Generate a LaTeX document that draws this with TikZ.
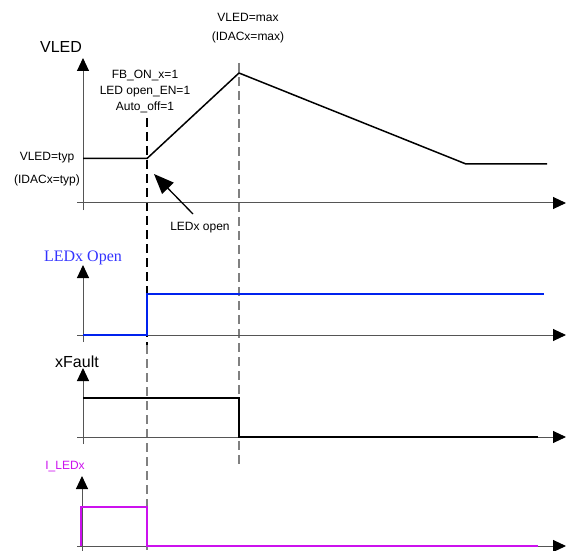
\documentclass[tikz,border=0pt]{standalone}
\usepackage{fontspec}
\setmainfont{Liberation Sans}
\newfontfamily\serifface{Liberation Serif}
\usetikzlibrary{arrows.meta}
\definecolor{axgrey}{HTML}{555555}
\definecolor{dgrey}{HTML}{808080}
\definecolor{sigblue}{HTML}{0022EE}
\definecolor{lblblue}{HTML}{3333FF}
\definecolor{sigmag}{HTML}{CC11EE}
\tikzset{
  axis/.style={draw=axgrey, line width=1pt, -{Triangle[length=13pt,width=12pt,fill=black,color=black]}},
  sig/.style={line width=1.5pt, line join=miter},
  small/.style={font=\fontsize{12}{14}\selectfont, inner sep=0pt},
  big/.style={font=\fontsize{16}{18}\selectfont, inner sep=0pt},
  blackdash/.style={draw=black, line width=1.3pt, dash pattern=on 9pt off 5pt},
  greydash/.style={draw=dgrey, line width=1.3pt, dash pattern=on 9pt off 5pt},
}
\begin{document}
\begin{tikzpicture}[x=1pt,y=-1pt]
\useasboundingbox (0,0) rectangle (566,551);
% ---------- coordinates ----------
\coordinate (vA0) at (83,210); \coordinate (vA1) at (83,58);
\coordinate (vX0) at (77,203); \coordinate (vX1) at (566,203);
\coordinate (oA0) at (83,342); \coordinate (oA1) at (83,265);
\coordinate (oX0) at (77,335); \coordinate (oX1) at (566,335);
\coordinate (fA0) at (83,444); \coordinate (fA1) at (83,368);
\coordinate (fX0) at (77,437); \coordinate (fX1) at (566,437);
\coordinate (iA0) at (82,551); \coordinate (iA1) at (82,476);
\coordinate (iX0) at (77,546); \coordinate (iX1) at (566,546);
% dashed markers
\coordinate (d1top) at (147,118); \coordinate (d1mid) at (147,345); \coordinate (d1bot) at (147,551);
\coordinate (d2top) at (239,63); \coordinate (d2bot) at (239,464);
% ---------- dashed lines ----------
\draw[blackdash] (d1top) -- (d1mid);
\draw[greydash] (d1mid) -- (d1bot);
\draw[greydash] (d2top) -- (d2bot);
% ---------- axes ----------
\draw[axis] (vA0) -- (vA1);
\draw[axis] (vX0) -- (vX1);
\draw[axis] (oA0) -- (oA1);
\draw[axis] (oX0) -- (oX1);
\draw[axis] (fA0) -- (fA1);
\draw[axis] (fX0) -- (fX1);
\draw[axis] (iA0) -- (iA1);
\draw[axis] (iX0) -- (iX1);
% ---------- VLED ----------
\coordinate (v0) at (83,158.5); \coordinate (v1) at (147,158.5);
\coordinate (v2) at (239,73); \coordinate (v3) at (466,164); \coordinate (v4) at (547,164);
\draw[sig] (v0) -- (v1) -- (v2) -- (v3) -- (v4);
\node[big] (lvled) at (61,47) {VLED};
\node[small] (ltyp) at (47,158) {VLED=typ};
\node[small] (ltypi) at (47,180) {(IDACx=typ)};
\node[small] (lmax) at (248,17) {VLED=max};
\node[small] (lmaxi) at (248,37) {(IDACx=max)};
\node[small] (lfb) at (145,76) {FB\_ON\_x=1};
\node[small] (len) at (145,92) {LED open\_EN=1};
\node[small] (lauto) at (145,107) {Auto\_off=1};
\node[small] (lopen) at (200,228) {LEDx open};
\coordinate (arrTail) at (193,214);
\coordinate (arrTip) at (154,174);
\draw[line width=1.3pt, -{Triangle[length=20pt,width=16pt]}] (arrTail) -- (arrTip);
% ---------- LEDx Open ----------
\node[font=\serifface\fontsize{16}{18}\selectfont, text=lblblue, inner sep=0pt] (lledo) at (83,258) {LEDx Open};
\coordinate (o0) at (83,335); \coordinate (o1) at (147,335);
\coordinate (o2) at (147,294); \coordinate (o3) at (544,294);
\draw[sig, draw=sigblue] (o0) -- (o1) -- (o2) -- (o3);
% ---------- xFault ----------
\node[big] (lxf) at (77,362) {xFault};
\coordinate (f0) at (83,398); \coordinate (f1) at (239,398);
\coordinate (f2) at (239,437); \coordinate (f3) at (538,437);
\draw[sig] (f0) -- (f1) -- (f2) -- (f3);
% ---------- I_LEDx ----------
\node[small, text=sigmag] (lile) at (65,467) {I\_LEDx};
\coordinate (i0) at (81,546); \coordinate (i1) at (81,507);
\coordinate (i2) at (147,507); \coordinate (i3) at (147,546); \coordinate (i4) at (538,546);
\draw[sig, draw=sigmag] (i0) -- (i1) -- (i2) -- (i3) -- (i4);
\end{tikzpicture}
\end{document}
